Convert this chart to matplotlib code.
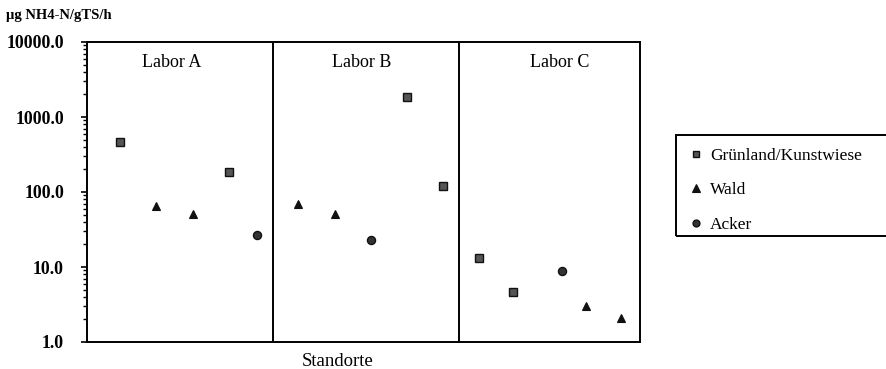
import numpy as np
import matplotlib
matplotlib.use("Agg")
import matplotlib.pyplot as plt
from matplotlib.patches import Rectangle
from matplotlib.ticker import FixedLocator, FormatStrFormatter, LogLocator, NullFormatter

plt.rcParams["font.family"] = ["Liberation Serif", "DejaVu Serif"]

# site positions along the x axis (three labs, five sites each)
gruen_x = [0.90, 3.85, 8.68, 9.66, 10.63, 11.56]
gruen_y = [460.0, 185.0, 1870.0, 120.0, 13.1, 4.7]
wald_x = [1.87, 2.87, 5.72, 6.73, 13.54, 14.48]
wald_y = [66.0, 51.0, 70.0, 51.0, 3.05, 2.1]
acker_x = [4.61, 7.70, 12.88]
acker_y = [26.5, 23.0, 8.8]

lab_names = ["Labor A", "Labor B", "Labor C"]
lab_label_x = [2.31, 7.45, 12.83]
lab_bounds = [0.0, 5.05, 10.09, 15.0]
y_ticks = [1.0, 10.0, 100.0, 1000.0, 10000.0]

fig = plt.figure(figsize=(8.86, 3.69), dpi=100)
ax = fig.add_axes([87 / 886, 27 / 369, 553 / 886, 300 / 369])

ax.set_yscale("log")
ax.set_ylim(1, 10000)
ax.set_xlim(lab_bounds[0], lab_bounds[-1])

ax.plot(gruen_x, gruen_y, ls="none", marker="s", ms=5.8, mfc="#555555",
        mec="#111111", mew=1.0, label="Grünland/Kunstwiese")
ax.plot(wald_x, wald_y, ls="none", marker="^", ms=6.2, mfc="#111111",
        mec="#111111", mew=0.8, label="Wald")
ax.plot(acker_x, acker_y, ls="none", marker="o", ms=5.8, mfc="#333333",
        mec="#111111", mew=1.0, label="Acker")

for b in lab_bounds[1:-1]:
    ax.axvline(b, color="black", lw=1.4)
for xc, name in zip(lab_label_x, lab_names):
    ax.text(xc, 5300, name, ha="center", va="center", fontsize=13)

for s in ax.spines.values():
    s.set_linewidth(1.4)

ax.yaxis.set_major_locator(FixedLocator(y_ticks))
ax.yaxis.set_major_formatter(FormatStrFormatter("%.1f"))
ax.yaxis.set_minor_locator(LogLocator(base=10, subs=np.arange(2, 10)))
ax.yaxis.set_minor_formatter(NullFormatter())
ax.tick_params(axis="y", which="major", direction="out", length=4.5, width=1.2,
               labelsize=12.8, pad=12)
ax.tick_params(axis="y", which="minor", direction="out", length=3.2, width=1.0)
for lbl in ax.get_yticklabels():
    lbl.set_fontweight("bold")
ax.set_xticks([])

fig.text(6 / 886, 1 - 16 / 369, "µg NH4-N/gTS/h", fontsize=10.5,
         fontweight="bold", va="center", ha="left")
fig.text(338 / 886, 1 - 362 / 369, "Standorte", fontsize=13.5,
         ha="center", va="center")

# legend box, running off the right edge
fig.patches.append(Rectangle((676 / 886, 1 - 236 / 369), 220 / 886, 101 / 369,
                             transform=fig.transFigure, fill=False,
                             edgecolor="black", lw=1.4))
fig.legend(loc="upper left", bbox_to_anchor=(683 / 886, 1 - 139 / 369),
           frameon=False, fontsize=12.5, handlelength=0.5, handletextpad=0.55,
           labelspacing=1.05, markerscale=0.85, borderpad=0)

fig.savefig("out.png", dpi=100)
